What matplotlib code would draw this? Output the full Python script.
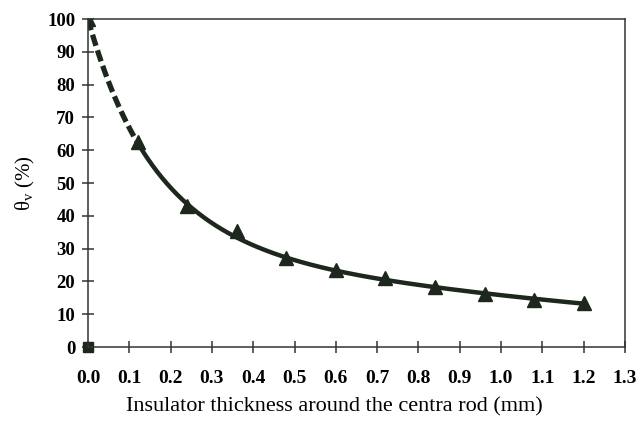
import numpy as np
import matplotlib
matplotlib.use("Agg")
import matplotlib.pyplot as plt

thickness = [0.0, 0.12, 0.24, 0.36, 0.48, 0.60, 0.72, 0.84, 0.96, 1.08, 1.20]
theta_v = [100, 62.5, 43, 35.5, 27.2, 23.4, 21.0, 18.3, 16.2, 14.4, 13.4]
ref_x = [0.0]
ref_y = [0.0]
xticks = [round(0.1 * i, 1) for i in range(14)]
yticks = list(range(0, 101, 10))

plt.rcParams['font.family'] = ['Liberation Serif', 'DejaVu Serif']
plt.rcParams['mathtext.fontset'] = 'custom'
plt.rcParams['mathtext.rm'] = 'Liberation Serif'
col = '#1d271d'

fig = plt.figure(figsize=(6.41, 4.24), dpi=100)
ax = fig.add_axes([88 / 641, 1 - 347 / 424, (625 - 88) / 641, (347 - 19) / 424])

# smooth trend line through the measured points (least-squares in log space)
xd = np.asarray(thickness); yd = np.asarray(theta_v)
w = np.ones_like(xd); w[0] = 30; w[1] = 8; w[2] = 4
coef = np.polyfit(xd, np.log(yd), 4, w=w)
xs = np.linspace(xd[0], xd[-1], 400)
ys = np.exp(np.polyval(coef, xs))
k = int(np.searchsorted(xs, xd[1]))
ax.plot(xs[:k + 1], ys[:k + 1], color=col, lw=3.8, linestyle=(0, (2.2, 0.9)), solid_capstyle='butt')
ax.plot(xs[k:], ys[k:], color=col, lw=3.2)
ax.plot(thickness, theta_v, linestyle='none', marker='^', ms=9.5, color=col)
ax.plot(ref_x, ref_y, linestyle='none', marker='s', ms=7.5, color=col, clip_on=False)

ax.set_xlim(0, 1.3)
ax.set_ylim(0, 100)
ax.set_xticks(xticks)
ax.set_xticklabels([f"{v:.1f}" for v in xticks], fontsize=14, fontweight='bold')
ax.set_yticks(yticks)
ax.set_yticklabels([str(v) for v in yticks], fontsize=13.5, fontweight='bold')
ax.tick_params(direction='inout', length=8.5, width=1.1, color='#333333')
ax.tick_params(axis='x', pad=12)
ax.tick_params(axis='y', pad=5)
for s in ax.spines.values():
    s.set_color('#333333'); s.set_linewidth(1.1)

ax.set_xlabel('Insulator thickness around the centra rod (mm)', fontsize=16)
ax.xaxis.set_label_coords((334 - 88) / (625 - 88), -(407 - 347) / (347 - 19))
ax.xaxis.label.set_va('center')
ax.set_ylabel(r'$\mathregular{θ_v}$ (%)', fontsize=15)
ax.yaxis.set_label_coords(-(88 - 25) / (625 - 88), 0.5)
ax.yaxis.label.set_va('center')

fig.savefig('out.png', dpi=100)
